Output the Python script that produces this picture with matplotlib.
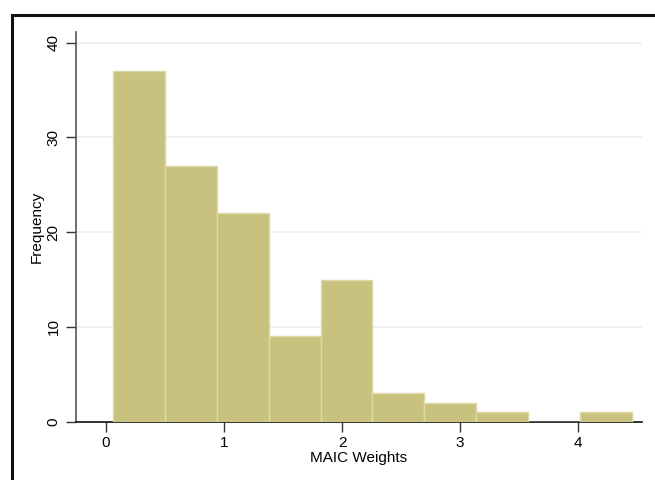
import matplotlib
matplotlib.use("Agg")
import matplotlib.pyplot as plt
from matplotlib.patches import Rectangle

# Data
bin_start = 0.057
bin_width = 0.44
counts = [37, 27, 22, 9, 15, 3, 2, 1, 0, 1]
x_ticks = [0, 1, 2, 3, 4]
y_ticks = [0, 10, 20, 30, 40]
x_label = "MAIC Weights"
y_label = "Frequency"

plt.rcParams['font.family'] = ['Liberation Sans', 'DejaVu Sans']

fig = plt.figure(figsize=(6.55, 4.8), dpi=100)
fig.patch.set_facecolor('white')

# outer frame (extends beyond the image on the right and bottom)
frame = Rectangle((11.5 / 655, -0.1), 1.2, 1 - 15 / 480 + 0.1,
                  transform=fig.transFigure, fill=False,
                  edgecolor='#111111', linewidth=2.2, clip_on=False)
fig.patches.append(frame)

ax = fig.add_axes([76 / 655, 1 - 421.7 / 480, (642 - 76) / 655, (421.7 - 32.3) / 480])

lefts = [bin_start + i * bin_width for i in range(len(counts))]
ax.bar(lefts, counts, width=bin_width, align='edge',
       color='#c9c27f', edgecolor='#dcd8a8', linewidth=1.0, zorder=3)

ax.set_xlim(-0.254, 4.54)
ax.set_ylim(0, 41.1)
ax.set_xticks(x_ticks)
ax.set_yticks(y_ticks)
ax.set_yticklabels([str(v) for v in y_ticks], rotation=90, va='center')
ax.tick_params(axis='both', labelsize=11, length=7, width=1.0, color='#333333')
ax.tick_params(axis='y', pad=4)
ax.tick_params(axis='x', pad=3)

ax.grid(axis='y', color='#eaf1f1', linewidth=1.2, zorder=0)
ax.set_axisbelow(True)

for s in ['top', 'right']:
    ax.spines[s].set_visible(False)
ax.spines['left'].set_color('#555555')
ax.spines['left'].set_linewidth(1.2)
ax.spines['bottom'].set_color('#111111')
ax.spines['bottom'].set_linewidth(1.2)

ax.set_xlabel(x_label, fontsize=11, labelpad=1)
ax.set_ylabel(y_label, fontsize=11, labelpad=2)

fig.savefig("out.png", dpi=100)
